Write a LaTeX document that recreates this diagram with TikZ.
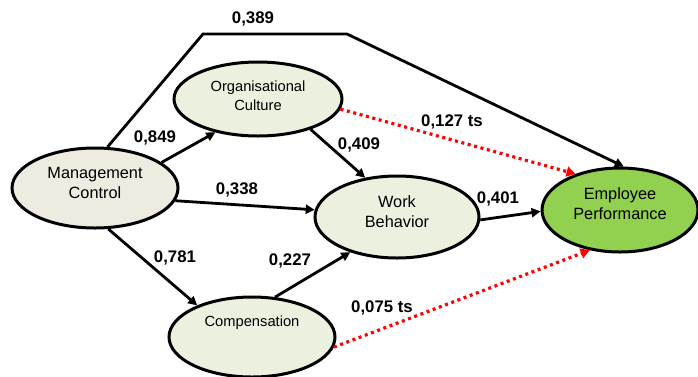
\documentclass[tikz,border=0pt]{standalone}
\usepackage{fontspec}
\setmainfont{Liberation Sans}
\usetikzlibrary{shapes.geometric,arrows.meta}
\definecolor{mcfill}{HTML}{EEECE1}
\definecolor{varfill}{HTML}{EBF1DE}
\definecolor{epfill}{HTML}{92D050}
\begin{document}
\begin{tikzpicture}[x=1pt,y=-1pt,
    var/.style={ellipse,draw,line width=3pt,fill=varfill,inner sep=0pt},
    big/.style={font=\fontsize{16.3}{20}\selectfont,align=center},
    small/.style={font=\fontsize{14.7}{19}\selectfont,align=center},
    path/.style={line width=2.8pt,-{Triangle[length=9pt,width=9pt]}},
    ns/.style={draw=red,line width=3.2pt,dash pattern=on 3pt off 3.6pt,-{Triangle[length=9pt,width=10pt]}},
    coef/.style={font=\fontsize{16.8}{20}\selectfont\bfseries}]
    \useasboundingbox (0,0) rectangle (698,376);
    \node[var,fill=mcfill,minimum width=166pt,minimum height=80pt,
        label={[big,yshift=5pt]center:Management\\Control}] (mc) at (95,188) {};
    \node[var,minimum width=168pt,minimum height=74pt,
        label={[small,yshift=3pt]center:Organisational\\Culture}] (oc) at (258,99) {};
    \node[var,minimum width=164pt,minimum height=82pt,
        label={[big,yshift=5pt]center:Work\\Behavior}] (wb) at (397,217) {};
    \node[var,minimum width=166pt,minimum height=80pt,
        label={[small,yshift=14pt]center:Compensation}] (comp) at (252,337) {};
    \node[var,fill=epfill,minimum width=156pt,minimum height=84pt,
        label={[big,yshift=6pt]center:Employee\\Performance}] (ep) at (620,210) {};
    \coordinate (k1) at (203,34);
    \coordinate (k2) at (347,34);
    \draw[path] (mc.73) -- (k1) -- (k2) -- (ep.85);
    \draw[path] (mc.21) -- (oc.218);
    \draw[path] (mc.-9) -- (wb.175);
    \draw[path] (mc.-72) -- (comp.150);
    \draw[path] (oc.-30) -- (wb.129);
    \draw[path] (comp.60) -- (wb.217);
    \draw[path] (wb.-2) -- (ep.181);
    \draw[ns] (oc.-7) -- (ep.141);
    \draw[ns] (comp.-7) -- (ep.233);
    \node[coef] (c389) at (253,19) {0,389};
    \node[coef] (c849) at (155,138) {0,849};
    \node[coef] (c338) at (237,190) {0,338};
    \node[coef] (c781) at (175,258) {0,781};
    \node[coef] (c227) at (290,261) {0,227};
    \node[coef] (c409) at (359,145) {0,409};
    \node[coef] (c401) at (498,199) {0,401};
    \node[coef] (c127) at (452,122) {0,127 ts};
    \node[coef] (c075) at (382,308) {0,075 ts};
\end{tikzpicture}
\end{document}
